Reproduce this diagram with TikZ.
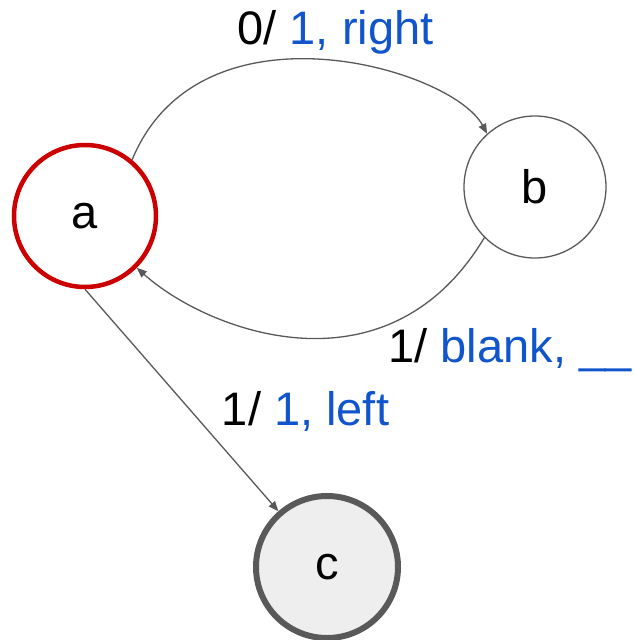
\documentclass[tikz,border=0pt]{standalone}
\usepackage{fontspec}
\setmainfont{Liberation Sans}
\usetikzlibrary{arrows.meta}
\definecolor{edgegray}{HTML}{595959}
\definecolor{redstroke}{HTML}{CC0000}
\definecolor{cfill}{HTML}{EEEEEE}
\definecolor{labelblue}{HTML}{1155CC}
\begin{document}
\begin{tikzpicture}[x=1pt,y=-1pt,
  state/.style={circle,minimum size=142pt,inner sep=0pt,font=\fontsize{47}{52}\selectfont},
  conn/.style={draw=edgegray,line width=1.3pt,-{Triangle[length=10pt,width=8pt]}},
  lbl/.style={anchor=base,font=\fontsize{47}{52}\selectfont,inner sep=0pt}]
\useasboundingbox (0,0) rectangle (633,640);
\node[state,draw=redstroke,line width=4.5pt] (a) at (85,216) {a};
\node[state,draw=edgegray,line width=1.3pt] (b) at (535,187) {b};
\node[state,draw=edgegray,line width=6pt,fill=cfill] (c) at (327,567) {c};
\draw[conn] (a.50) .. controls (200,-5) and (452,68) .. (b.132);
\draw[conn] (b.225) .. controls (387,400) and (207,331) .. (a.-45);
\draw[conn] (a.south) -- (c);
\node[lbl] (l1) at (335.5,44) {0/ \textcolor{labelblue}{1, right}};
\node[lbl] (l2) at (510,362) {1/ \textcolor{labelblue}{blank, \_\_}};
\node[lbl] (l3) at (305.5,425) {1/ \textcolor{labelblue}{1, left}};
\end{tikzpicture}
\end{document}
